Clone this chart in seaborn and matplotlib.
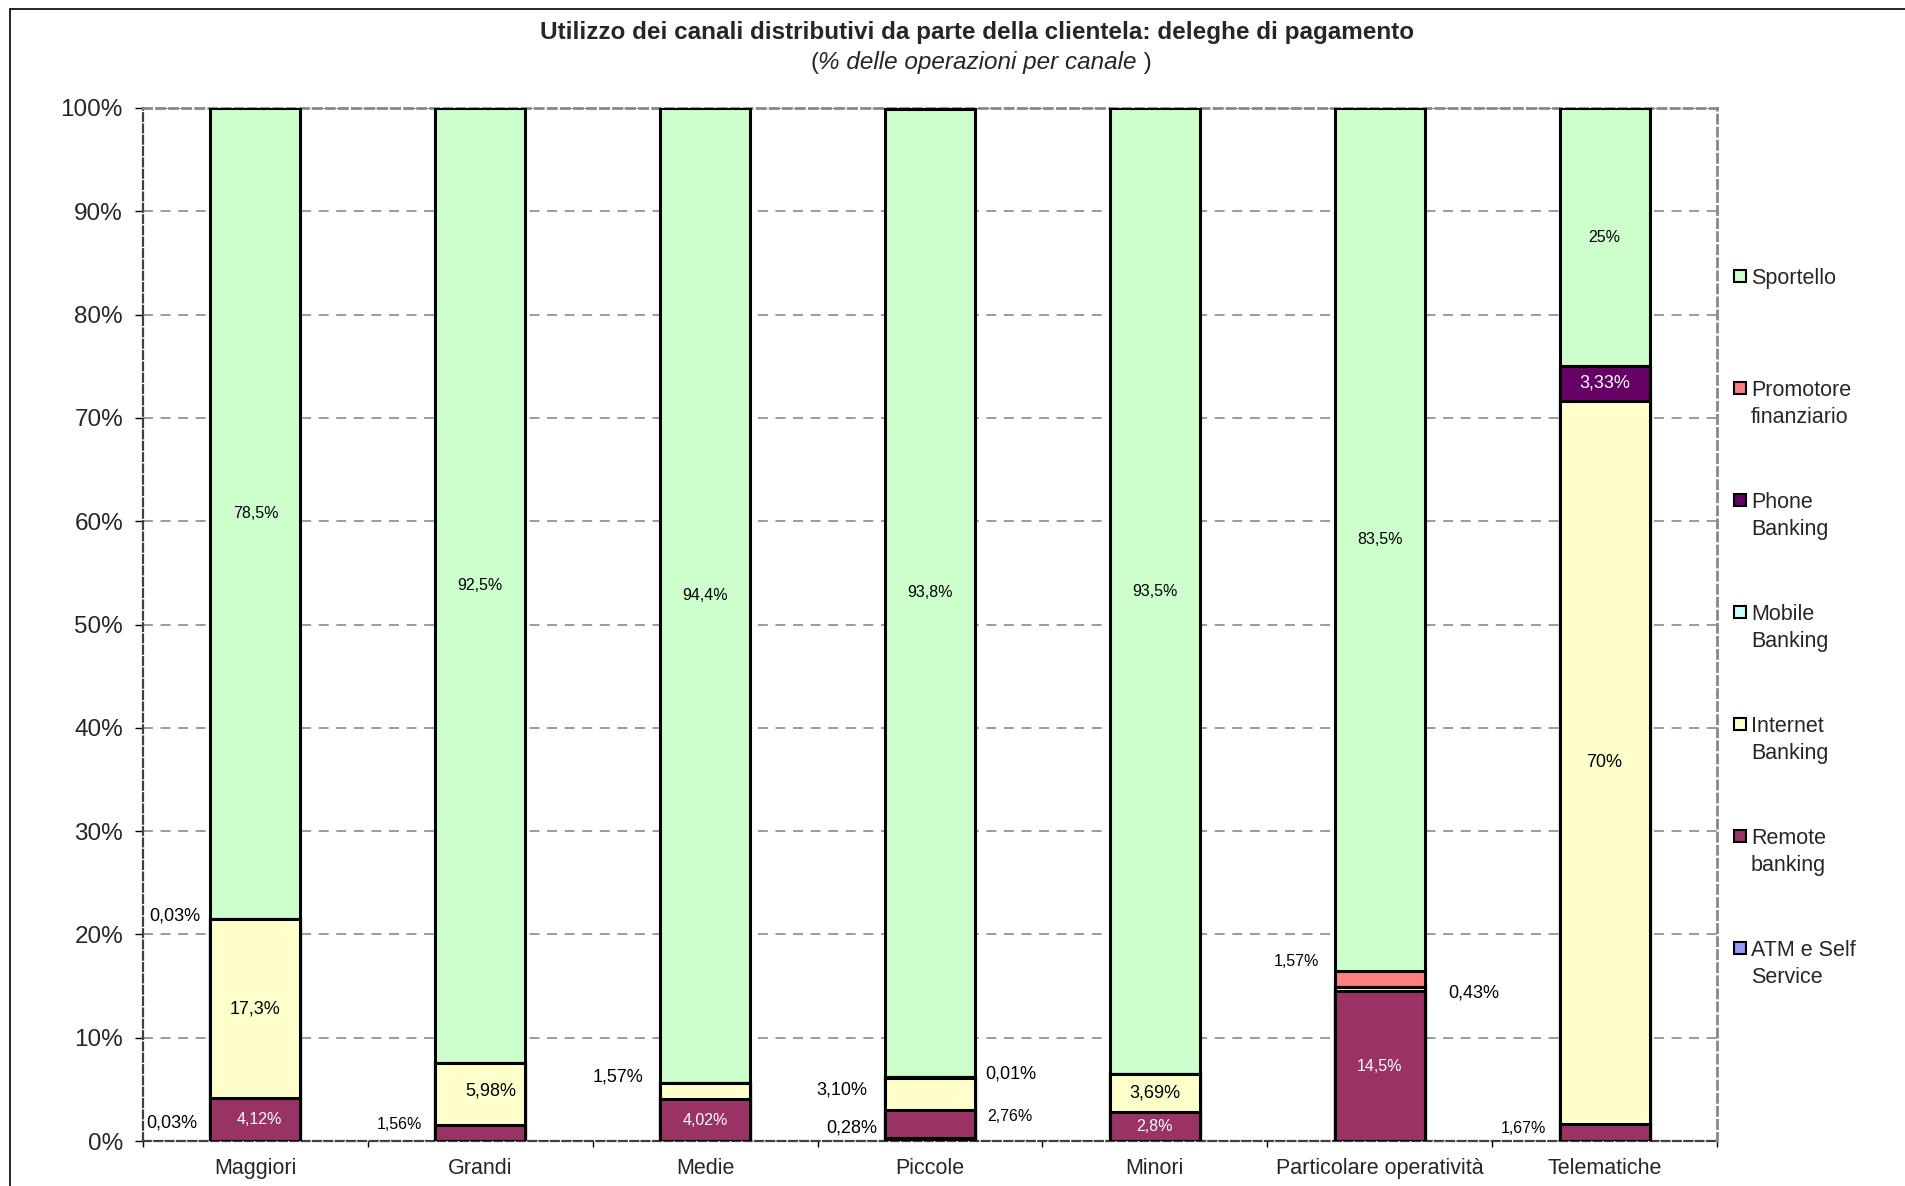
import matplotlib
matplotlib.use("Agg")
import numpy as np
import matplotlib.pyplot as plt
import matplotlib.patches as mpatches
import seaborn as sns

# Dati: % delle operazioni per canale (deleghe di pagamento)
categories = ["Maggiori", "Grandi", "Medie", "Piccole", "Minori",
              "Particolare operatività", "Telematiche"]
series_names = ["ATM e Self Service", "Remote banking", "Internet Banking",
                "Mobile Banking", "Phone Banking", "Promotore finanziario",
                "Sportello"]
atm = [0.03, 0, 0, 0.28, 0, 0, 0]
remote = [4.12, 1.56, 4.02, 2.76, 2.8, 14.5, 1.67]
internet = [17.3, 5.98, 1.57, 3.10, 3.69, 0.43, 70]
mobile = [0.03, 0, 0, 0.01, 0, 0, 0]
phone = [0, 0, 0, 0, 0, 0, 3.33]
promotore = [0, 0, 0, 0, 0, 1.57, 0]
sportello = [78.5, 92.5, 94.4, 93.8, 93.5, 83.5, 25]

legend_labels = ["Sportello", "Promotore\nfinanziario", "Phone\nBanking",
                 "Mobile\nBanking", "Internet\nBanking", "Remote\nbanking",
                 "ATM e Self\nService"]
y_ticks = [0, 10, 20, 30, 40, 50, 60, 70, 80, 90, 100]
y_tick_labels = ["0%", "10%", "20%", "30%", "40%", "50%", "60%", "70%",
                 "80%", "90%", "100%"]

# etichette dei valori (categoria, serie, testo)
value_labels = [
    ("Maggiori", "ATM e Self Service", "0,03%"),
    ("Maggiori", "Remote banking", "4,12%"),
    ("Maggiori", "Internet Banking", "17,3%"),
    ("Maggiori", "Mobile Banking", "0,03%"),
    ("Maggiori", "Sportello", "78,5%"),
    ("Grandi", "Remote banking", "1,56%"),
    ("Grandi", "Internet Banking", "5,98%"),
    ("Grandi", "Sportello", "92,5%"),
    ("Medie", "Remote banking", "4,02%"),
    ("Medie", "Internet Banking", "1,57%"),
    ("Medie", "Sportello", "94,4%"),
    ("Piccole", "ATM e Self Service", "0,28%"),
    ("Piccole", "Remote banking", "2,76%"),
    ("Piccole", "Internet Banking", "3,10%"),
    ("Piccole", "Mobile Banking", "0,01%"),
    ("Piccole", "Sportello", "93,8%"),
    ("Minori", "Remote banking", "2,8%"),
    ("Minori", "Internet Banking", "3,69%"),
    ("Minori", "Sportello", "93,5%"),
    ("Particolare operatività", "Remote banking", "14,5%"),
    ("Particolare operatività", "Internet Banking", "0,43%"),
    ("Particolare operatività", "Promotore finanziario", "1,57%"),
    ("Particolare operatività", "Sportello", "83,5%"),
    ("Telematiche", "Remote banking", "1,67%"),
    ("Telematiche", "Internet Banking", "70%"),
    ("Telematiche", "Phone Banking", "3,33%"),
    ("Telematiche", "Sportello", "25%"),
]

# stile
colors = {"ATM e Self Service": "#9999FF", "Remote banking": "#993366",
          "Internet Banking": "#FFFFCC", "Mobile Banking": "#CCFFFF",
          "Phone Banking": "#660066", "Promotore finanziario": "#FF8080",
          "Sportello": "#CCFFCC"}
BIG, SMALL = 13, 11.5
# posizione etichette: (dove, distanza px, spostamento verticale px, dimensione, colore)
label_layout = {
    ("Maggiori", "ATM e Self Service"): ("left", 13, 18, BIG, "black"),
    ("Maggiori", "Remote banking"): ("in", 4, 0, SMALL, "white"),
    ("Maggiori", "Internet Banking"): ("in", 0, 0, BIG, "black"),
    ("Maggiori", "Mobile Banking"): ("left", 10, 3, BIG, "black"),
    ("Maggiori", "Sportello"): ("in", 0, 0, SMALL, "black"),
    ("Grandi", "Remote banking"): ("left", 13, 8, SMALL, "black"),
    ("Grandi", "Internet Banking"): ("in", 11, 3, BIG, "black"),
    ("Grandi", "Sportello"): ("in", 0, 0, SMALL, "black"),
    ("Medie", "Remote banking"): ("in", 0, 0, SMALL, "white"),
    ("Medie", "Internet Banking"): ("left", 17, 14, BIG, "black"),
    ("Medie", "Sportello"): ("in", 0, 0, SMALL, "black"),
    ("Piccole", "ATM e Self Service"): ("left", 8, 12, BIG, "black"),
    ("Piccole", "Remote banking"): ("right", 12, 7, SMALL, "black"),
    ("Piccole", "Internet Banking"): ("left", 18, 4, BIG, "black"),
    ("Piccole", "Mobile Banking"): ("right", 10, 4, BIG, "black"),
    ("Piccole", "Sportello"): ("in", 0, 0, SMALL, "black"),
    ("Minori", "Remote banking"): ("in", 0, 0, SMALL, "white"),
    ("Minori", "Internet Banking"): ("in", 0, 0, BIG, "black"),
    ("Minori", "Sportello"): ("in", 0, 0, SMALL, "black"),
    ("Particolare operatività", "Remote banking"): ("in", 0, 0, SMALL, "white"),
    ("Particolare operatività", "Internet Banking"): ("right", 24, -4, BIG, "black"),
    ("Particolare operatività", "Promotore finanziario"): ("left", 16, 17, SMALL, "black"),
    ("Particolare operatività", "Sportello"): ("in", 0, 0, SMALL, "black"),
    ("Telematiche", "Remote banking"): ("left", 13, 4, SMALL, "black"),
    ("Telematiche", "Internet Banking"): ("in", 0, 0, BIG, "black"),
    ("Telematiche", "Phone Banking"): ("in", 0, 0, BIG, "white"),
    ("Telematiche", "Sportello"): ("in", 0, 0, SMALL, "black"),
}
BAR_W = 0.4
PX = 0.72  # pixel -> punti (dpi 100)
W, H = 1905, 1186

sns.set_style("white")
plt.rcParams['font.family'] = ['Liberation Sans', 'DejaVu Sans']

values = np.array([atm, remote, internet, mobile, phone, promotore, sportello])
cum = values.cumsum(axis=0)

fig = plt.figure(figsize=(W / 100, H / 100), dpi=100)
ax = fig.add_axes([143 / W, 1 - 1141 / H, 1574 / W, 1033 / H])

# barre sovrapposte: dal totale cumulato piu alto al piu basso
for k in range(len(series_names) - 1, -1, -1):
    sns.barplot(x=categories, y=cum[k], order=categories, color=colors[series_names[k]],
                saturation=1, width=BAR_W, edgecolor="black", linewidth=2.2,
                errorbar=None, ax=ax, zorder=3)

for cat, ser, txt in value_labels:
    i = categories.index(cat)
    k = series_names.index(ser)
    where, dx, dy, size, col = label_layout[(cat, ser)]
    yc = cum[k, i] - values[k, i] / 2
    if where == "in":
        x, ha = i, "center"
    elif where == "left":
        x, ha, dx = i - BAR_W / 2, "right", -dx
    else:
        x, ha = i + BAR_W / 2, "left"
    ax.annotate(txt, (x, yc), xytext=(dx * PX, dy * PX), textcoords="offset points",
                ha=ha, va="center", fontsize=size, color=col, zorder=5)

ax.set_xlim(-0.5, len(categories) - 0.5)
ax.set_ylim(0, 100)
ax.set_yticks(y_ticks)
ax.set_yticklabels(y_tick_labels, fontsize=17.5)
ax.set_xticks(np.arange(-0.5, len(categories)), labels=[""] * (len(categories) + 1))
ax.set_xticks(range(len(categories)), labels=categories, minor=True, fontsize=15.5)
ax.tick_params(axis="y", direction="out", length=5.8, width=1, color="black", pad=8.6, left=True)
ax.tick_params(axis="x", which="major", direction="out", length=4.3, width=1, color="black", bottom=True)
ax.tick_params(axis="x", which="minor", length=0, pad=12)
ax.set_xlabel("")
ax.set_ylabel("")

ax.set_axisbelow(True)
ax.yaxis.grid(True, color="#808080", linewidth=1.1, linestyle=(0, (6.5, 5)))
ax.xaxis.grid(False)
for side in ["top", "right"]:
    ax.spines[side].set_visible(True)
    ax.spines[side].set_color("#888888")
    ax.spines[side].set_linewidth(2)
    ax.spines[side].set_linestyle((0, (2.9, 1.8)))
for side in ["left", "bottom"]:
    ax.spines[side].set_visible(True)
    ax.spines[side].set_color("#404040")
    ax.spines[side].set_linewidth(1.6)
    ax.spines[side].set_linestyle((0, (3.5, 1.6)))

# legenda (stile Excel: quadratino allineato alla prima riga)
for n, (ser, lab) in enumerate(zip(series_names[::-1], legend_labels)):
    yc = 276 + 112 * n
    fig.add_artist(mpatches.Rectangle((1734 / W, 1 - (yc + 6) / H), 12 / W, 12 / H,
                                      transform=fig.transFigure, facecolor=colors[ser],
                                      edgecolor="black", linewidth=1.5))
    fig.text(1751 / W, 1 - (yc - 8) / H, lab, ha="left", va="top", fontsize=15.5,
             linespacing=1.36)

# titoli
fig.text(0.513, 1 - 33 / H, "Utilizzo dei canali distributivi da parte della clientela: deleghe di pagamento",
         ha="center", va="center", fontsize=17.5, fontweight="bold")
mid = fig.text(0.513, 1 - 63 / H, "% delle operazioni per canale", ha="center", va="center",
               fontsize=17.5, style="italic")
ax.annotate("(", xy=(0, 0), xycoords=mid, ha="right", va="bottom", fontsize=17.5)
ax.annotate(" )", xy=(1, 0), xycoords=mid, ha="left", va="bottom", fontsize=17.5)

# cornice esterna
fig.add_artist(mpatches.Rectangle((10 / W, -0.05), 1.0, 1.05 - 9 / H,
                                  transform=fig.transFigure, fill=False,
                                  edgecolor="black", linewidth=1.2))

fig.savefig("out.png", dpi=100)
